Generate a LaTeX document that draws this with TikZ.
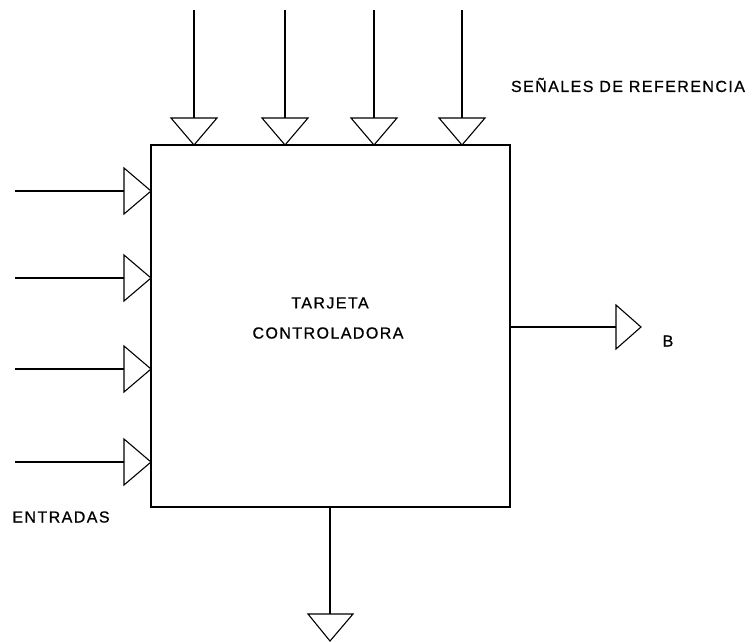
\documentclass[tikz,border=0pt]{standalone}
\usepackage{fontspec}
\newfontfamily\lbl[LetterSpace=9,FakeBold=0.8]{Liberation Sans}
\begin{document}
\begin{tikzpicture}[x=1pt,y=-1pt,
  wire/.style={line width=1.3pt,black},
  tri/.style={line width=1.1pt,black,fill=white,line join=miter},
  txt/.style={font=\lbl\fontsize{16}{18}\selectfont,inner sep=0pt}]
\useasboundingbox (0,0) rectangle (752,641);
% main box
\node[draw,line width=1.3pt,minimum width=359pt,minimum height=362pt,inner sep=0pt] (box) at (330.5,326) {};
\node[txt] (t1) at (330,303) {TARJETA};
\node[txt] (t2) at (328,333) {CONTROLADORA};
% top inputs
\foreach \i/\x in {1/194,2/285,3/374,4/462}{
  \coordinate (top\i) at (\x,10);
  \coordinate (topb\i) at (\x,118);
  \coordinate (topt\i) at (\x,145);
  \draw[wire] (top\i) -- (topb\i);
  \draw[tri] ([xshift=-23pt]topb\i) -- ([xshift=23pt]topb\i) -- (topt\i) -- cycle;
}
% left inputs
\foreach \i/\y in {1/191,2/278,3/369,4/462}{
  \coordinate (lft\i) at (15,\y);
  \coordinate (lftb\i) at (124,\y);
  \coordinate (lftt\i) at (151,\y);
  \draw[wire] (lft\i) -- (lftb\i);
  \draw[tri] ([yshift=-23pt]lftb\i) -- ([yshift=23pt]lftb\i) -- (lftt\i) -- cycle;
}
% right output
\coordinate (rb) at (616,327);
\coordinate (rt) at (641,327);
\draw[wire] (box.east |- rb) -- (rb);
\draw[tri] ([yshift=-22pt]rb) -- ([yshift=22pt]rb) -- (rt) -- cycle;
% bottom output
\coordinate (bb) at (330,614);
\coordinate (bt) at (330,641);
\draw[wire] (box.south -| bb) -- (bb);
\draw[tri] ([xshift=-22pt]bb) -- ([xshift=23pt]bb) -- (bt) -- cycle;
% labels
\node[txt] (ref) at (628,85) {SEÑALES DE REFERENCIA};
\node[txt] (bl) at (668,341) {B};
\node[txt] (ent) at (61,517) {ENTRADAS};
\end{tikzpicture}
\end{document}
